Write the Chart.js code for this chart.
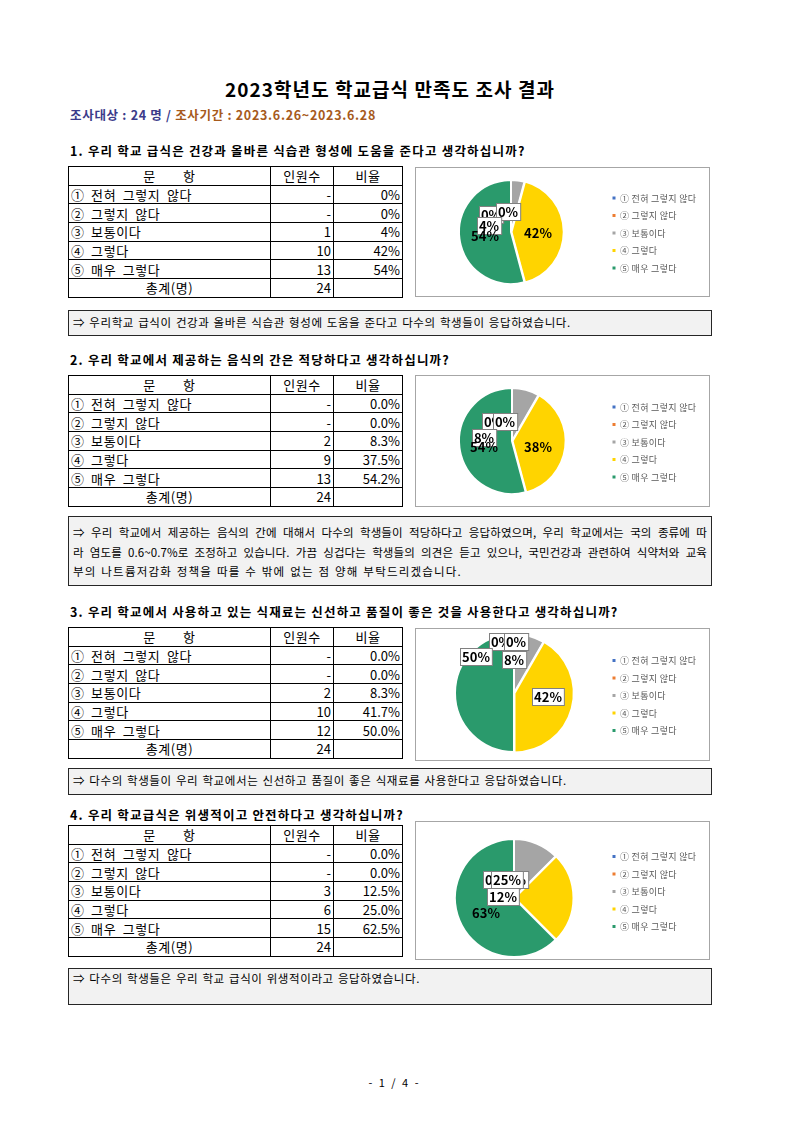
<!DOCTYPE html>
<html><head><meta charset="utf-8">
<script src="https://cdn.jsdelivr.net/npm/chart.js@4.4.0/dist/chart.umd.min.js"></script>
<style>
body{margin:0;background:#fff;font-family:"Noto Sans CJK KR","Noto Sans",sans-serif;color:#000;}
#page{position:relative;width:793px;height:1123px;overflow:hidden;}
.abs{position:absolute;}
.title{left:68px;width:644px;top:77px;text-align:center;font-weight:bold;font-size:19px;line-height:24px;letter-spacing:1.05px;}
.sub{left:70px;top:107px;font-weight:bold;font-size:12.5px;line-height:16px;letter-spacing:0.7px;}
.q{left:70px;font-weight:bold;font-size:12.5px;line-height:16px;white-space:nowrap;letter-spacing:1.2px;}
table.t{position:absolute;left:68px;width:335px;border-collapse:collapse;table-layout:fixed;font-size:13px;border:1.5px solid #333;letter-spacing:0.6px;word-spacing:3px;}
table.t td{border:1px solid #000;height:17.7px;padding:0 2px;line-height:17px;white-space:nowrap;overflow:hidden;}
table.t td.c{text-align:center;}
table.t td.r{text-align:right;letter-spacing:0;}
.box{position:absolute;border:1px solid #a6a6a6;box-sizing:border-box;background:#fff;}
.cmt{position:absolute;left:68px;width:644px;box-sizing:border-box;background:#f2f2f2;border:1.5px solid #262626;font-size:11.5px;line-height:16px;padding:3px 4px;letter-spacing:0.6px;word-spacing:1px;}
.cmt div{white-space:nowrap;}
.cmt.multi{letter-spacing:0.1px;word-spacing:0;line-height:19.5px;}
.cmt.multi div.last{letter-spacing:1.2px;word-spacing:1px;}
.cmt .j{text-align:justify;text-align-last:justify;}
.foot{left:0;width:788px;top:1074px;text-align:center;font-size:11px;line-height:16px;letter-spacing:1px;word-spacing:2px;}
</style></head>
<body><div id="page"></div>
<script>
// ---- data ----
const categories = ["① 전혀 그렇지 않다","② 그렇지 않다","③ 보통이다","④ 그렇다","⑤ 매우 그렇다"];
const tableHeader = ["문　　항","인원수","비율"];
const totalLabel = "총계(명)";
const questions = [
  "1. 우리 학교 급식은 건강과 올바른 식습관 형성에 도움을 준다고 생각하십니까?",
  "2. 우리 학교에서 제공하는 음식의 간은 적당하다고 생각하십니까?",
  "3. 우리 학교에서 사용하고 있는 식재료는 신선하고 품질이 좋은 것을 사용한다고 생각하십니까?",
  "4. 우리 학교급식은 위생적이고 안전하다고 생각하십니까?"
];
const q1Counts = [0,0,1,10,13];
const q1Rates = ["0%","0%","4%","42%","54%"];
const q1Labels = ["0%","0%","4%","42%","54%"];
const q2Counts = [0,0,2,9,13];
const q2Rates = ["0.0%","0.0%","8.3%","37.5%","54.2%"];
const q2Labels = ["0%","0%","8%","38%","54%"];
const q3Counts = [0,0,2,10,12];
const q3Rates = ["0.0%","0.0%","8.3%","41.7%","50.0%"];
const q3Labels = ["0%","0%","8%","42%","50%"];
const q4Counts = [0,0,3,6,15];
const q4Rates = ["0.0%","0.0%","12.5%","25.0%","62.5%"];
const q4Labels = ["0%","0%","12%","25%","63%"];
const totals = [24,24,24,24];
const comments = [
  ["⇒ 우리학교 급식이 건강과 올바른 식습관 형성에 도움을 준다고 다수의 학생들이 응답하였습니다."],
  ["⇒ 우리 학교에서 제공하는 음식의 간에 대해서 다수의 학생들이 적당하다고 응답하였으며,  우리 학교에서는 국의 종류에 따",
   "라 염도를 0.6~0.7%로 조정하고 있습니다. 가끔 싱겁다는 학생들의 의견은 듣고 있으나, 국민건강과 관련하여 식약처와 교육",
   "부의 나트륨저감화 정책을 따를 수 밖에 없는 점 양해 부탁드리겠습니다."],
  ["⇒ 다수의 학생들이 우리 학교에서는 신선하고 품질이 좋은 식재료를 사용한다고 응답하였습니다."],
  ["⇒ 다수의 학생들은 우리 학교 급식이 위생적이라고 응답하였습니다."]
];
const sliceColors = ["#4472c4","#ed7d31","#a5a5a5","#ffd400","#2a9a6c"];

// ---- layout (positions / styles only) ----
const layout = [
  {qTop:143, tTop:166, box:[415,167,295,130], pc:[511,232], r:52,
   off:[[-20,-18],[-3,-21],[-22,-7],[27,0],[-26,3]], boxed:[1,1,1,0,0], cTop:310, cH:26, cPad:3},
  {qTop:352, tTop:375, box:[415,375,295,132], pc:[512,441], r:53,
   off:[[-18,-20],[-7,-20],[-28,-4],[26,5],[-28,5]], boxed:[1,1,1,0,0], cTop:516, cH:70, cPad:6},
  {qTop:604, tTop:627, box:[415,628,295,133], pc:[514,693], r:59,
   off:[[-13,-52],[2,-52],[0,-34],[34,3],[-38,-37]], boxed:[1,1,1,1,1], cTop:768, cH:27, cPad:3},
  {qTop:807, tTop:825, box:[415,821,295,139], pc:[514,898], r:59,
   off:[[-19,-19],[2,-19],[-11,-2],[-7,-19],[-28,14]], boxed:[1,1,1,1,0], cTop:968, cH:37, cPad:1}
];
const allCounts=[q1Counts,q2Counts,q3Counts,q4Counts];
const allRates=[q1Rates,q2Rates,q3Rates,q4Rates];
const allLabels=[q1Labels,q2Labels,q3Labels,q4Labels];

const page=document.getElementById('page');
function add(html){page.insertAdjacentHTML('beforeend',html);}
add('<div class="abs title">2023학년도 학교급식 만족도 조사 결과</div>');
add('<div class="abs sub"><span style="color:#3b3b8a">조사대상 : 24 명 / </span><span style="color:#a65a1c">조사기간 : 2023.6.26~2023.6.28</span></div>');
add('<div class="abs foot">- 1 / 4 -</div>');

const extras={
  id:'pieExtras',
  afterDatasetsDraw(chart,args,opts){
    const ctx=chart.ctx;
    const meta=chart.getDatasetMeta(0);
    const cx=meta.data[0].x, cy=meta.data[0].y;
    ctx.save();
    ctx.font='bold 13px "Noto Sans CJK KR"';
    ctx.textAlign='center';ctx.textBaseline='middle';
    opts.labels.forEach((t,i)=>{
      const x=cx+opts.off[i][0], y=cy+opts.off[i][1];
      if(opts.boxed[i]){
        const w=ctx.measureText(t).width+4, h=17;
        ctx.fillStyle='#fff';ctx.fillRect(Math.round(x-w/2)+0.5,Math.round(y-h/2)+0.5,w,h);
        ctx.strokeStyle='#808080';ctx.lineWidth=1;ctx.strokeRect(Math.round(x-w/2)+0.5,Math.round(y-h/2)+0.5,w,h);
      }
      ctx.fillStyle='#000';ctx.fillText(t,x,y+1);
    });
    // legend
    ctx.font='9px "Noto Sans CJK KR"';
    if('letterSpacing' in ctx) ctx.letterSpacing='0.3px';
    ctx.textAlign='left';
    const ds=chart.data.datasets[0];
    const n=chart.data.labels.length;
    chart.data.labels.forEach((lab,i)=>{
      const y=opts.legendCy+(i-(n-1)/2)*17.5;
      ctx.fillStyle=ds.backgroundColor[i];
      ctx.fillRect(opts.legendX-1.5,y-1.5,3,3);
      ctx.fillStyle='#595959';
      ctx.fillText(lab,opts.legendX+6,y+0.5);
    });
    ctx.restore();
  }
};

layout.forEach((L,k)=>{
  add(`<div class="abs q" style="top:${L.qTop}px">${questions[k]}</div>`);
  let rows=`<tr><td class="c" style="width:197px">${tableHeader[0]}</td><td class="c" style="width:58px">${tableHeader[1]}</td><td class="c">${tableHeader[2]}</td></tr>`;
  categories.forEach((c,i)=>{
    const v=allCounts[k][i];
    rows+=`<tr><td>${c}</td><td class="r">${v===0?'-':v}</td><td class="r">${allRates[k][i]}</td></tr>`;
  });
  rows+=`<tr><td class="c">${totalLabel}</td><td class="r">${totals[k]}</td><td></td></tr>`;
  add(`<table class="t" style="top:${L.tTop}px">${rows}</table>`);
  const [bx,by,bw,bh]=L.box;
  add(`<div class="box" style="left:${bx}px;top:${by}px;width:${bw}px;height:${bh}px"></div>`);
  const cw=bw-2, ch=bh-2;
  add(`<canvas id="c${k}" class="abs" style="left:${bx+1}px;top:${by+1}px" width="${cw}" height="${ch}"></canvas>`);
  const multi=comments[k].length>1;
  const lines=comments[k].map((l,i)=>`<div class="${(i<comments[k].length-1)?'j':'last'}">${l}</div>`).join('');
  add(`<div class="cmt${multi?' multi':''}" style="top:${L.cTop}px;height:${L.cH}px;padding-top:${L.cPad}px;">${lines}</div>`);
  const cxl=L.pc[0]-(bx+1), cyl=L.pc[1]-(by+1);
  new Chart(document.getElementById('c'+k),{
    type:'pie',
    data:{labels:categories,datasets:[{data:allCounts[k],backgroundColor:sliceColors,borderColor:'#fff',borderWidth:2,offset:[0,0,0,2,0]}]},
    options:{
      responsive:false,animation:false,
      layout:{padding:{left:cxl-60,right:cw-cxl-60,top:cyl-60,bottom:ch-cyl-60}},
      radius:L.r,
      plugins:{legend:{display:false},tooltip:{enabled:false},
        pieExtras:{labels:allLabels[k],off:L.off,boxed:L.boxed,legendX:614-(bx+1),legendCy:bh/2}}
    },
    plugins:[extras]
  });
});
</script>
</body></html>
